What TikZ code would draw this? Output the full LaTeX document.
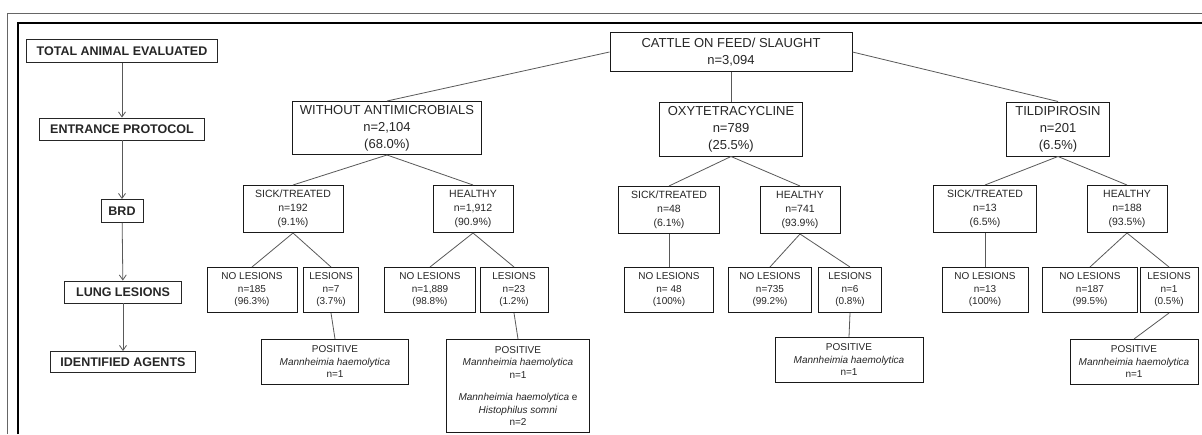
\documentclass[tikz,border=0pt]{standalone}
\usepackage{fontspec}
\setmainfont{Liberation Sans}
\usetikzlibrary{arrows.meta}

\begin{document}
\begin{tikzpicture}[x=1pt,y=-1pt,line join=miter]
      \tikzstyle{side}=[draw=black!85,line width=0.9pt,inner sep=0pt,text=black!85,
        font=\fontsize{12.5}{14}\selectfont\bfseries]
      \tikzstyle{big}=[draw=black!90,line width=1pt,inner sep=0pt,align=center,text=black!85,
        font=\fontsize{13}{17}\selectfont]
      \tikzstyle{mid}=[draw=black!90,line width=1pt,inner sep=0pt,align=center,text=black!85,
        font=\fontsize{10.5}{14}\selectfont,minimum height=47pt]
      \tikzstyle{small}=[draw=black!90,line width=1pt,inner sep=0pt,align=center,text=black!85,
        font=\fontsize{10}{12.5}\selectfont,minimum height=45pt]
      \tikzstyle{link}=[draw=black!65,line width=0.8pt]
      \tikzstyle{down}=[link,-{Straight Barb[length=5pt,width=7pt]}]

      \useasboundingbox (0,0) rectangle (1202,434);
      \fill[white] (0,0) rectangle (1202,434);
      \draw[black!60,line width=1pt] (7,434) -- (7,13) -- (1202,13);
      \draw[black,line width=1.5pt] (18,434) -- (18,23) -- (1202,23);

      % steps on the left
      \node[side,minimum width=191pt,minimum height=23pt] (total) at (122,51) {TOTAL ANIMAL EVALUATED};
      \node[side,minimum width=165pt,minimum height=22pt] (entr) at (122,129) {ENTRANCE PROTOCOL};
      \node[side,minimum width=42pt,minimum height=23pt] (brd) at (122,211) {BRD};
      \node[side,minimum width=117pt,minimum height=22pt] (lung) at (123,292) {LUNG LESIONS};
      \node[side,minimum width=145pt,minimum height=21pt] (agents) at (123,362) {IDENTIFIED AGENTS};

      \draw[down] (total) -- (entr);
      \draw[down] (entr) -- (brd);
      \draw[down] (brd) -- (lung);
      \draw[down] (lung) -- (agents);

      % tree
      \node[big,minimum width=242pt,minimum height=39pt] (top) at (731,52) {CATTLE ON FEED/ SLAUGHT\\n=3,094};

      \node[big,minimum width=189pt,minimum height=53pt] (wa) at (387,128) {WITHOUT ANTIMICROBIALS\\n=2,104\\(68.0\%)};
      \node[big,minimum width=143pt,minimum height=54pt] (oxy) at (731,129) {OXYTETRACYCLINE\\n=789\\(25.5\%)};
      \node[big,minimum width=103pt,minimum height=54pt] (tild) at (1058,129) {TILDIPIROSIN\\n=201\\(6.5\%)};

      \node[mid,minimum width=100pt] (wasick) at (293,209) {SICK/TREATED\\n=192\\(9.1\%)};
      \node[mid,minimum width=80pt] (waheal) at (473,209) {HEALTHY\\n=1,912\\(90.9\%)};
      \node[mid,minimum width=101pt] (oxsick) at (669,210) {SICK/TREATED\\n=48\\(6.1\%)};
      \node[mid,minimum width=80pt] (oxheal) at (800,210) {HEALTHY\\n=741\\(93.9\%)};
      \node[mid,minimum width=103pt] (tisick) at (985,209) {SICK/TREATED\\n=13\\(6.5\%)};
      \node[mid,minimum width=80pt] (tiheal) at (1127,209) {HEALTHY\\n=188\\(93.5\%)};

      \node[small,minimum width=90pt] (wanl) at (252,290) {NO LESIONS\\n=185\\(96.3\%)};
      \node[small,minimum width=55pt] (wales) at (331,290) {LESIONS\\n=7\\(3.7\%)};
      \node[small,minimum width=91pt] (wanl2) at (430,290) {NO LESIONS\\n=1,889\\(98.8\%)};
      \node[small,minimum width=68pt] (wales2) at (514,290) {LESIONS\\n=23\\(1.2\%)};
      \node[small,minimum width=89pt] (oxnl) at (669,290) {NO LESIONS\\n= 48\\(100\%)};
      \node[small,minimum width=83pt] (oxnl2) at (770,290) {NO LESIONS\\n=735\\(99.2\%)};
      \node[small,minimum width=63pt] (oxles) at (850,290) {LESIONS\\n=6\\(0.8\%)};
      \node[small,minimum width=86pt] (tinl) at (985,290) {NO LESIONS\\n=13\\(100\%)};
      \node[small,minimum width=95pt] (tinl2) at (1090,290) {NO LESIONS\\n=187\\(99.5\%)};
      \node[small,minimum width=58pt] (tiles) at (1169,290) {LESIONS\\n=1\\(0.5\%)};

      \node[small,minimum width=147pt] (wapos) at (335,362) {POSITIVE\\\textit{Mannheimia haemolytica}\\n=1};
      \node[small,minimum width=143pt,minimum height=93pt] (wapos2) at (518,386)
        {POSITIVE\\\textit{Mannheimia haemolytica}\\n=1\\[10pt]\textit{Mannheimia haemolytica} e\\\textit{Histophilus somni}\\n=2};
      \node[small,minimum width=148pt] (oxpos) at (849,360) {POSITIVE\\\textit{Mannheimia haemolytica}\\n=1};
      \node[small,minimum width=128pt] (tipos) at (1134,362) {POSITIVE\\\textit{Mannheimia haemolytica}\\n=1};

      \draw[link] (top.west) -- (wa.north);
      \draw[link] (top.south) -- (oxy.north);
      \draw[link] (top.east) -- (tild.north);

      \draw[link] (wa.south) -- (wasick.north);
      \draw[link] (wa.south) -- (waheal.north);
      \draw[link] (oxy.south) -- (oxsick.north);
      \draw[link] (oxy.south) -- (oxheal.north);
      \draw[link] (tild.south) -- (tisick.north);
      \draw[link] (tild.south) -- (tiheal.north);

      \draw[link] (wasick.south) -- (wanl.north);
      \draw[link] (wasick.south) -- (wales.north);
      \draw[link] (waheal.south) -- (wanl2.north);
      \draw[link] (waheal.south) -- (wales2.north);
      \draw[link] (oxsick.south) -- (oxnl.north);
      \draw[link] (oxheal.south) -- (oxnl2.north);
      \draw[link] (oxheal.south) -- (oxles.north);
      \draw[link] (tisick.south) -- (tinl.north);
      \draw[link] (tiheal.south) -- (tinl2.north);
      \draw[link] (tiheal.south) -- (tiles.north);

      \draw[link] (wales.south) -- (wapos.north);
      \draw[link] (wales2.south) -- (wapos2.north);
      \draw[link] (oxles.south) -- (oxpos.north);
      \draw[link] (tiles.south) -- (tipos.north);
    \end{tikzpicture}
\end{document}
